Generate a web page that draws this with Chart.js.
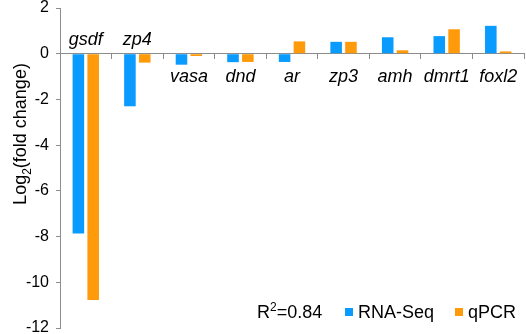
<!DOCTYPE html>
<html>
<head>
<meta charset="utf-8">
<script src="https://cdn.jsdelivr.net/npm/chart.js@4.4.1/dist/chart.umd.min.js"></script>
<style>
  html, body { margin: 0; padding: 0; background: #fff; }
  #wrap { width: 526px; height: 334px; }
</style>
</head>
<body>
<div id="wrap"><canvas id="grafico" width="526" height="334"></canvas></div>
<script>
// genes y valores log2(fold change)
const genes = ["gsdf", "zp4", "vasa", "dnd", "ar", "zp3", "amh", "dmrt1", "foxl2"];
const rnaSeq = [-7.87, -2.3, -0.48, -0.37, -0.36, 0.52, 0.72, 0.77, 1.22];
const qpcr = [-10.78, -0.39, -0.1, -0.36, 0.54, 0.52, 0.15, 1.07, 0.1];
const etiquetaArriba = [true, true, false, false, false, false, false, false, false];
const yTicks = [2, 0, -2, -4, -6, -8, -10, -12];
const serieNombres = ["RNA-Seq", "qPCR"];
const r2Texto = "0.84";

const azul = "#0A9BFF";
const naranja = "#FF9A0A";
const gris = "#8c8c8c";
const fuente = "'Liberation Sans', Arial, sans-serif";

// etiquetas de genes, titulo del eje y leyenda
const extras = {
  id: "extras",
  afterDraw(chart) {
    const ctx = chart.ctx;
    const x = chart.scales.x;
    const y = chart.scales.y;
    const y0 = y.getPixelForValue(0);

    ctx.save();
    ctx.fillStyle = "#000";
    ctx.textAlign = "center";
    ctx.textBaseline = "alphabetic";
    ctx.font = "italic 18px " + fuente;
    genes.forEach((g, i) => {
      const px = x.getPixelForValue(i);
      const py = etiquetaArriba[i] ? y0 - 9 : y0 + 28;
      ctx.fillText(g, px, py);
    });

    // titulo eje y: Log2(fold change)
    ctx.translate(26, 134);
    ctx.rotate(-Math.PI / 2);
    const p1 = "Log", p2 = "(fold change)";
    ctx.font = "12px " + fuente;
    const wSub = ctx.measureText("2").width;
    ctx.font = "18px " + fuente;
    const w1 = ctx.measureText(p1).width;
    const w2 = ctx.measureText(p2).width;
    let sx = -(w1 + wSub + w2) / 2;
    ctx.textAlign = "left";
    ctx.fillText(p1, sx, 0);
    ctx.font = "12px " + fuente;
    ctx.fillText("2", sx + w1, 5);
    ctx.font = "18px " + fuente;
    ctx.fillText(p2, sx + w1 + wSub, 0);
    ctx.restore();

    // leyenda
    ctx.save();
    ctx.fillStyle = "#000";
    ctx.textAlign = "left";
    ctx.textBaseline = "alphabetic";
    const base = 318;
    let lx = 257;
    ctx.font = "18px " + fuente;
    ctx.fillText("R", lx, base);
    lx += ctx.measureText("R").width;
    ctx.font = "12px " + fuente;
    ctx.fillText("2", lx, base - 7);
    lx += ctx.measureText("2").width;
    ctx.font = "18px " + fuente;
    ctx.fillText("=" + r2Texto, lx, base);

    const colores = [azul, naranja];
    const posX = [345, 455];
    serieNombres.forEach((n, i) => {
      ctx.fillStyle = colores[i];
      ctx.fillRect(posX[i], 308, 8, 8);
      ctx.fillStyle = "#000";
      ctx.fillText(n, posX[i] + 13, base);
    });
    ctx.restore();
  }
};

const ctx = document.getElementById("grafico").getContext("2d");
new Chart(ctx, {
  type: "bar",
  data: {
    labels: genes,
    datasets: [
      { label: serieNombres[0], data: rnaSeq, backgroundColor: azul },
      { label: serieNombres[1], data: qpcr, backgroundColor: naranja }
    ]
  },
  options: {
    responsive: false,
    animation: false,
    devicePixelRatio: 1,
    categoryPercentage: 0.575,
    barPercentage: 0.78,
    layout: { padding: { top: 8, bottom: 6, left: 0, right: 2 } },
    plugins: { legend: { display: false }, tooltip: { enabled: false } },
    scales: {
      x: {
        position: { y: 0 },
        grid: { display: true, drawOnChartArea: false, drawTicks: true, tickLength: 5, color: gris, offset: true },
        border: { display: true, color: gris, width: 1 },
        ticks: { display: false }
      },
      y: {
        min: -12,
        max: 2,
        afterFit: scale => {
          scale.width = 60;
          scale.paddingTop = 0;
          scale.paddingBottom = 0;
        },
        afterBuildTicks: scale => { scale.ticks = yTicks.map(v => ({ value: v })); },
        grid: { display: true, drawOnChartArea: false, drawTicks: true, tickLength: 4, color: gris },
        border: { display: true, color: gris, width: 1 },
        ticks: {
          color: "#000",
          padding: 7,
          font: { family: fuente, size: 16 }
        }
      }
    }
  },
  plugins: [extras]
});
</script>
</body>
</html>
